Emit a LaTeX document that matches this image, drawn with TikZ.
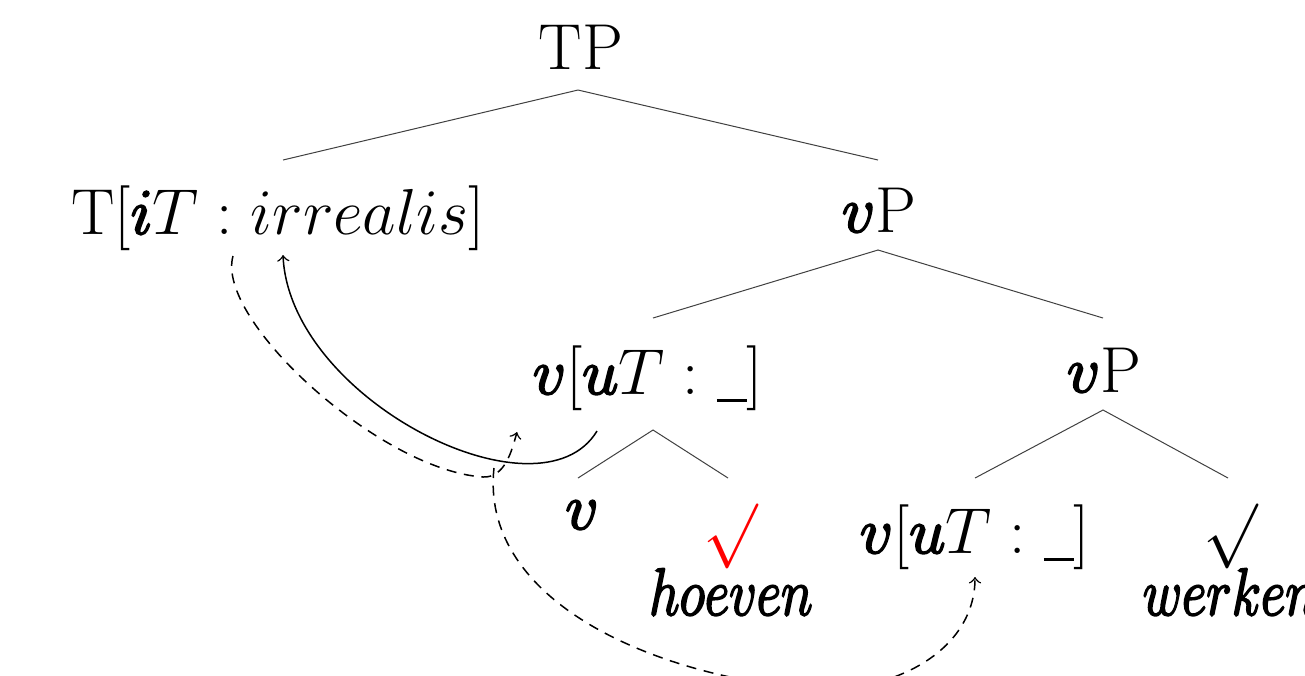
\documentclass[tikz,border=0pt]{standalone}
\usepackage{fix-cm}
\usepackage{amsmath}
\usepackage{graphicx}
\newcommand{\blankslot}{\mathord{\rule[-0.12em]{0.46em}{0.05em}}}
\newcommand{\fbon}{\special{pdf:literal direct 2 Tr 0.6 w}}
\newcommand{\fboff}{\special{pdf:literal direct 0 Tr}}
\newcommand{\hv}[1]{\mathord{\hbox{\fbon$#1$\fboff}}}
\newcommand{\lexw}[1]{\scalebox{0.83}[1.03]{\fbon$#1$\fboff}}
\begin{document}
\begin{tikzpicture}[x=0.3pt,y=-0.3pt,
  lbl/.style={font=\fontsize{19.5}{23}\selectfont, inner sep=0pt, anchor=base},
  sym/.style={font=\fontsize{19.5}{23}\selectfont, inner sep=0pt},
  branch/.style={draw=black!75, line width=0.3pt},
  mov/.style={->, line width=0.45pt},
  movd/.style={->, line width=0.45pt, dash pattern=on 3pt off 2.3pt}]
\clip (0,0) rectangle (1305,675);
\useasboundingbox (0,0) rectangle (1305,675);

% labels
\node[lbl] (TP)  at (581,69)  {TP};
\node[lbl] (T)   at (278,234) {$\mathrm{T}[\hv{i}T : irrealis]$};
\node[lbl] (vPa) at (879,232) {$\hv{v}$P};
\node[lbl] (va)  at (648,394) {$\hv{v}[\hv{u}T : \blankslot]$};
\node[lbl] (vPb) at (1104,392) {$\hv{v}$P};
\node[lbl] (vs)  at (582,529) {$\hv{v}$};
\node[sym,text=red] (ra) at (731,536) {$\surd$};
\node[lbl] (hoe) at (731,615) {\lexw{hoeven}};
\node[lbl] (vb)  at (975,553) {$\hv{v}[\hv{u}T : \blankslot]$};
\node[sym] (rb)  at (1231,536) {$\surd$};
\node[lbl] (wer) at (1230,615) {\lexw{werken}};

% branch end points
\coordinate (TPs) at (578,90);
\coordinate (Tn)  at (283,160);
\coordinate (vPan) at (878,160);
\coordinate (vPas) at (878,250);
\coordinate (van) at (653,318);
\coordinate (vPbn) at (1103,318);
\coordinate (vas) at (653,430);
\coordinate (vsn) at (578,478);
\coordinate (ran) at (728,478);
\coordinate (vPbs) at (1103,410);
\coordinate (vbn) at (975,478);
\coordinate (rbn) at (1228,478);

\draw[branch] (Tn) -- (TPs) -- (vPan);
\draw[branch] (van) -- (vPas) -- (vPbn);
\draw[branch] (vsn) -- (vas) -- (ran);
\draw[branch] (vbn) -- (vPbs) -- (rbn);

% movement arrows
\coordinate (s1) at (597,431);
\coordinate (e1) at (283,255);
\draw[mov] (s1) .. controls (540,525) and (290,400) .. (e1);

\coordinate (s2) at (233,256);
\coordinate (m2) at (483,477);
\coordinate (e2) at (517,432);
\draw[movd] (s2) .. controls (215,320) and (380,470) .. (m2)
  .. controls (505,478) and (512,450) .. (e2);

\coordinate (s3) at (494,468);
\coordinate (m3) at (817,690);
\coordinate (e3) at (975,577);
\draw[movd] (s3) .. controls (480,595) and (640,675) .. (m3)
  .. controls (905,690) and (975,645) .. (e3);
\end{tikzpicture}
\end{document}
